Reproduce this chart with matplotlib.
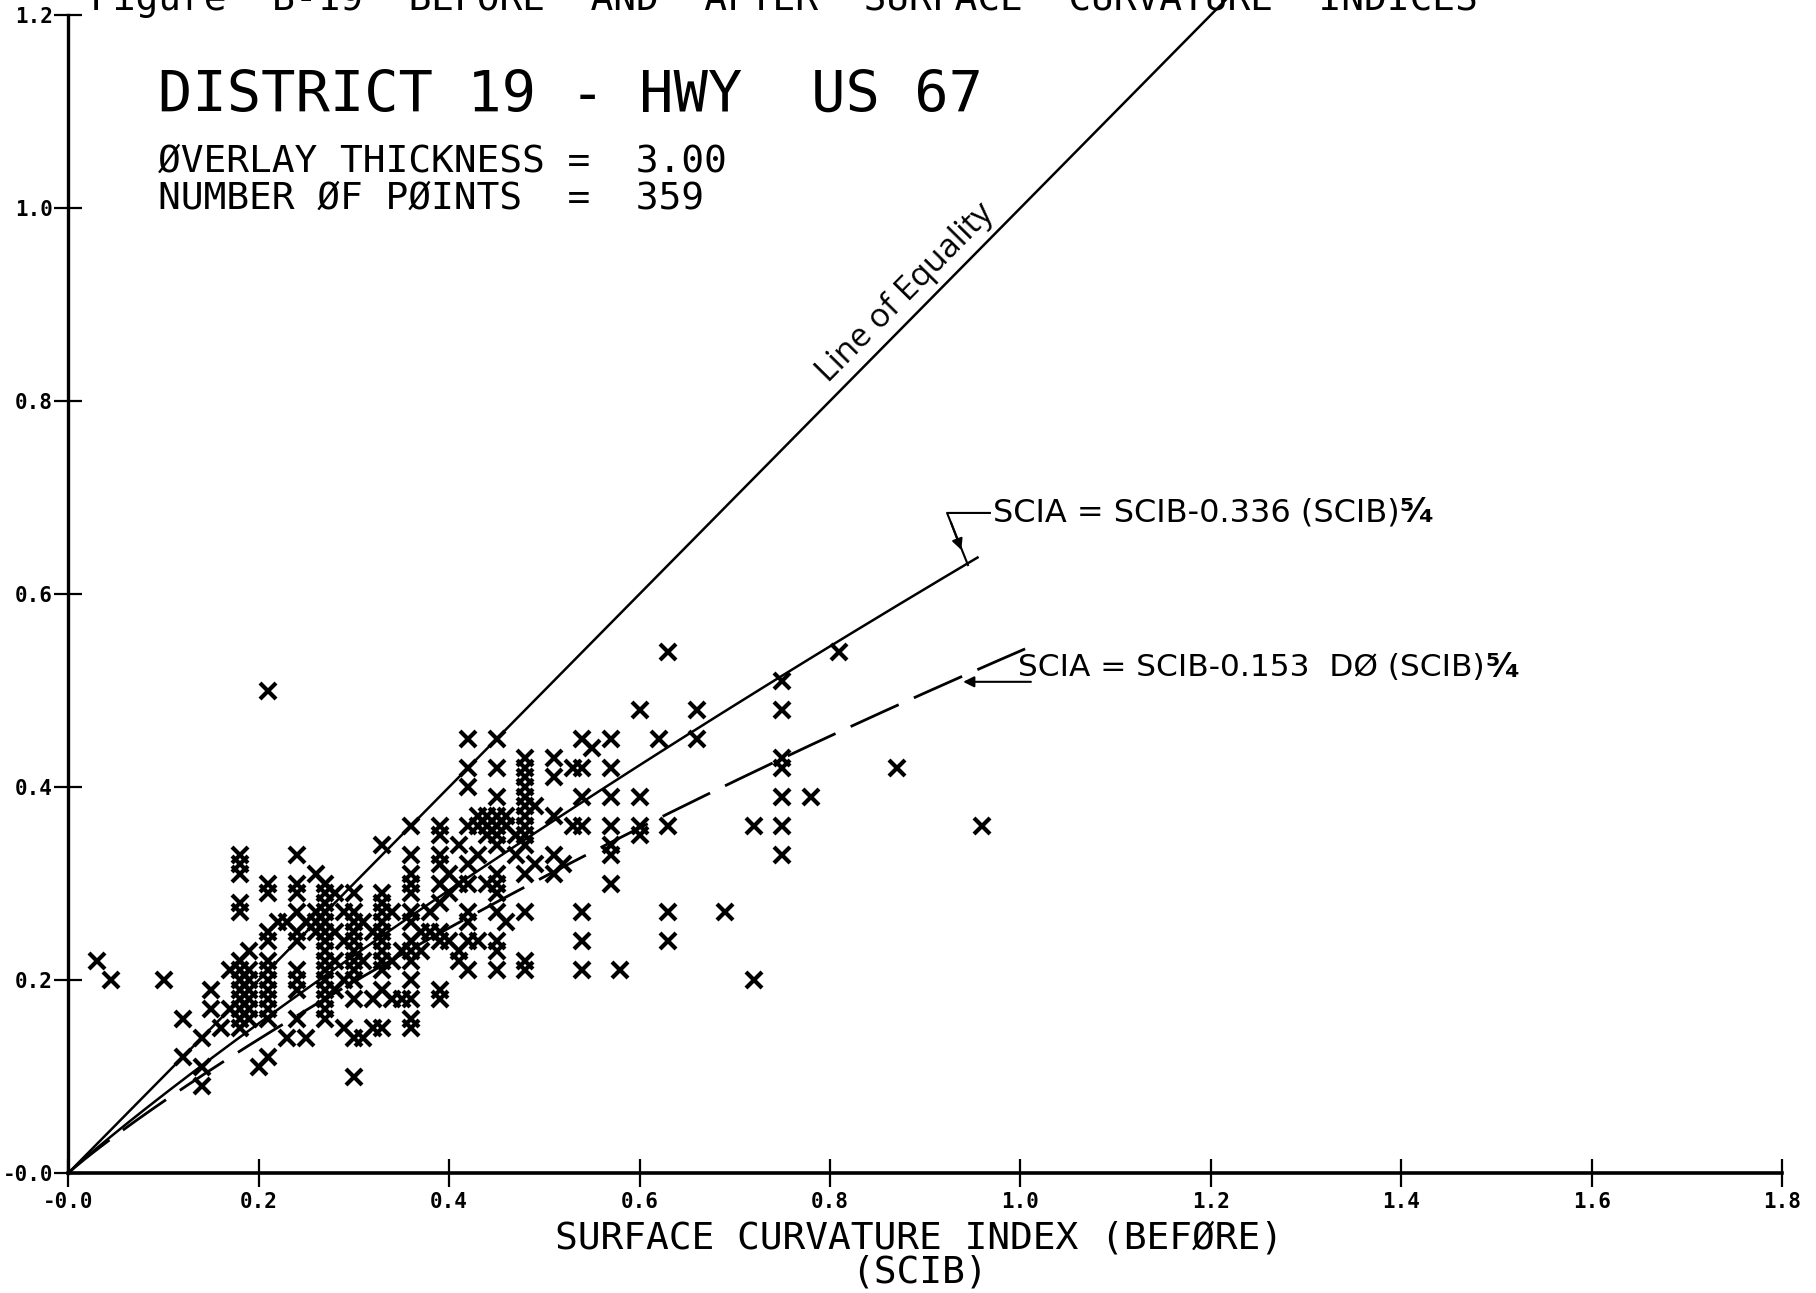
import numpy as np
import matplotlib
matplotlib.use("Agg")
import matplotlib.pyplot as plt

plt.rcParams["lines.scale_dashes"] = False

# Surface curvature index before overlay (columns) and the after-overlay values in each column
column_scib = [0.03, 0.045, 0.10, 0.12, 0.14, 0.15, 0.16, 0.17, 0.18, 0.19, 0.20, 0.21,
               0.22, 0.23, 0.24, 0.25, 0.26, 0.27, 0.28, 0.29, 0.30, 0.31, 0.32, 0.33,
               0.34, 0.35, 0.36, 0.37, 0.38, 0.39, 0.40, 0.41, 0.42, 0.43, 0.44, 0.45,
               0.46, 0.47, 0.48, 0.49, 0.51, 0.52, 0.53, 0.54, 0.55, 0.57, 0.58, 0.60,
               0.62, 0.63, 0.66, 0.69, 0.72, 0.75, 0.78, 0.81, 0.87, 0.96]
column_scia = [
    [0.22], [0.20], [0.20], [0.16, 0.12], [0.14, 0.11, 0.09], [0.19, 0.17], [0.15],
    [0.21, 0.17],
    [0.33, 0.32, 0.31, 0.28, 0.27, 0.22, 0.21, 0.20, 0.19, 0.18, 0.17, 0.16, 0.15],
    [0.23, 0.21, 0.20, 0.19, 0.18, 0.17, 0.16],
    [0.11],
    [0.50, 0.30, 0.29, 0.25, 0.24, 0.22, 0.21, 0.20, 0.19, 0.18, 0.17, 0.16, 0.12],
    [0.26], [0.26, 0.14],
    [0.33, 0.30, 0.29, 0.27, 0.25, 0.24, 0.21, 0.20, 0.19, 0.16],
    [0.26, 0.14],
    [0.31, 0.27, 0.26, 0.25],
    [0.30, 0.29, 0.28, 0.27, 0.26, 0.25, 0.24, 0.23, 0.22, 0.21, 0.20, 0.19, 0.18, 0.17, 0.16],
    [0.29, 0.25, 0.22, 0.19],
    [0.27, 0.24, 0.20, 0.15],
    [0.29, 0.27, 0.26, 0.25, 0.24, 0.23, 0.22, 0.21, 0.20, 0.18, 0.14, 0.10],
    [0.26, 0.22, 0.14],
    [0.25, 0.18, 0.15],
    [0.34, 0.29, 0.28, 0.27, 0.26, 0.25, 0.24, 0.23, 0.22, 0.21, 0.19, 0.15],
    [0.27, 0.22, 0.18],
    [0.23, 0.18],
    [0.36, 0.33, 0.31, 0.30, 0.29, 0.27, 0.26, 0.24, 0.23, 0.22, 0.20, 0.18, 0.16, 0.15],
    [0.25, 0.23],
    [0.27, 0.25],
    [0.36, 0.35, 0.33, 0.32, 0.30, 0.28, 0.25, 0.24, 0.19, 0.18],
    [0.31, 0.29, 0.24],
    [0.34, 0.30, 0.23, 0.22],
    [0.45, 0.42, 0.40, 0.36, 0.32, 0.30, 0.27, 0.26, 0.24, 0.21],
    [0.37, 0.36, 0.33, 0.24],
    [0.37, 0.36, 0.35, 0.30],
    [0.45, 0.42, 0.39, 0.37, 0.36, 0.35, 0.34, 0.31, 0.30, 0.29, 0.27, 0.24, 0.23, 0.21],
    [0.37, 0.36, 0.26],
    [0.35, 0.33],
    [0.43, 0.42, 0.41, 0.40, 0.39, 0.38, 0.37, 0.36, 0.35, 0.34, 0.31, 0.27, 0.22, 0.21],
    [0.38, 0.32],
    [0.43, 0.41, 0.37, 0.33, 0.31],
    [0.32],
    [0.42, 0.36],
    [0.45, 0.42, 0.39, 0.36, 0.27, 0.24, 0.21],
    [0.44],
    [0.45, 0.42, 0.39, 0.36, 0.34, 0.33, 0.30],
    [0.21],
    [0.48, 0.39, 0.36, 0.35],
    [0.45],
    [0.54, 0.36, 0.27, 0.24],
    [0.48, 0.45],
    [0.27],
    [0.36, 0.20],
    [0.51, 0.48, 0.43, 0.42, 0.39, 0.36, 0.33],
    [0.39],
    [0.54],
    [0.42],
    [0.36],
]

# Fitted relations
coef_fit = 0.336          # SCIA = SCIB - 0.336 SCIB^(5/4)
coef_d0 = 0.153           # SCIA = SCIB - 0.153 D0 SCIB^(5/4)
d0_mean = 3.0
exponent = 5.0 / 4.0
fit_end = 0.955
d0_end = 1.005

x_ticks = [0.0, 0.2, 0.4, 0.6, 0.8, 1.0, 1.2, 1.4, 1.6, 1.8]
y_ticks = [0.0, 0.2, 0.4, 0.6, 0.8, 1.0, 1.2]

scib = np.concatenate([[x] * len(ys) for x, ys in zip(column_scib, column_scia)])
scia = np.concatenate(column_scia)

W, H = 1816, 1293
fig = plt.figure(figsize=(W / 100, H / 100), dpi=100)
ax = fig.add_axes([68.3 / W, 1 - 1173 / H, (1782 - 68.3) / W, (1173 - 15) / H])
ax.set_xlim(0, 1.8)
ax.set_ylim(0, 1.2)

for side in ("top", "right"):
    ax.spines[side].set_visible(False)
ax.spines["left"].set_linewidth(2.4)
ax.spines["bottom"].set_linewidth(2.6)

ax.set_xticks(x_ticks)
ax.set_yticks(y_ticks)
fmt = lambda v: "-0.0" if abs(v) < 1e-9 else f"{v:.1f}"
ax.set_xticklabels([fmt(v) for v in x_ticks], fontsize=15, fontweight="bold",
                   family="DejaVu Sans Mono")
ax.set_yticklabels([fmt(v) for v in y_ticks], fontsize=15, fontweight="bold",
                   family="DejaVu Sans Mono")
ax.tick_params(axis="both", direction="inout", length=20, width=1.6, colors="black")
ax.tick_params(axis="x", pad=4)
ax.tick_params(axis="y", pad=1)

# Observations
ax.plot(scib, scia, linestyle="none", marker="x", markersize=11,
        markeredgewidth=3.0, color="black", clip_on=False, zorder=3)

# Line of equality
eq = np.array([0.0, 1.22])
ax.plot(eq, eq, color="black", lw=1.8, clip_on=False)
ax.text(0.879, 0.912, "Line of Equality", rotation=45, transform_rotates_text=True,
        rotation_mode="anchor", ha="center", va="center", fontsize=24, family="Open Sans")

# Fitted curve
xf = np.linspace(0, fit_end, 300)
ax.plot(xf, xf - coef_fit * xf ** exponent, color="black", lw=1.8)

# Deflection-based curve
xd = np.linspace(0, d0_end, 300)
ax.plot(xd, xd - coef_d0 * d0_mean * xd ** exponent, color="black", lw=2.0,
        dashes=(38, 12))

# Labels for the curves
t1 = ax.text(0.971, 0.684, "SCIA = SCIB-0.336 (SCIB)", ha="left", va="center",
             fontsize=23, family="DejaVu Sans")
ax.annotate("\u2075\u2044\u2084", xy=(1, 0.5), xycoords=t1, xytext=(0, 0),
            textcoords="offset points", ha="left", va="center", fontsize=24,
            fontweight="bold", family="DejaVu Sans")
ax.plot([0.968, 0.923, 0.945], [0.684, 0.684, 0.630], color="black", lw=1.5)
ax.annotate("", xy=(0.939, 0.643), xytext=(0.926, 0.677),
            arrowprops=dict(arrowstyle="-|>", lw=1.5, color="black", mutation_scale=16))

t2 = ax.text(0.998, 0.524, "SCIA = SCIB-0.153  D\u00d8 (SCIB)", ha="left", va="center",
             fontsize=22.5, family="DejaVu Sans")
ax.annotate("\u2075\u2044\u2084", xy=(1, 0.5), xycoords=t2, xytext=(0, 0),
            textcoords="offset points", ha="left", va="center", fontsize=24,
            fontweight="bold", family="DejaVu Sans")
ax.annotate("", xy=(0.937, 0.509), xytext=(1.014, 0.509),
            arrowprops=dict(arrowstyle="-|>", lw=1.5, color="black", mutation_scale=16))

# Header block
mono = "DejaVu Sans Mono"
fig.text(90 / W, 1 - 9.5 / H,
         "Figure  B-19  BEFORE  AND  AFTER  SURFACE  CURVATURE  INDICES",
         family=mono, fontsize=27.3, va="baseline", ha="left")
fig.text(157.5 / W, 1 - 112 / H, "DISTRICT 19 - HWY  US 67", family=mono,
         fontsize=41, va="baseline", ha="left")
fig.text(157.5 / W, 1 - 171.4 / H, "\u00d8VERLAY THICKNESS =  3.00", family=mono,
         fontsize=27.3, va="baseline", ha="left")
fig.text(157.5 / W, 1 - 208.4 / H, "NUMBER \u00d8F P\u00d8INTS  =  359", family=mono,
         fontsize=27.3, va="baseline", ha="left")

# Axis title
fig.text(919 / W, 2 / H, "SURFACE CURVATURE INDEX (BEF\u00d8RE)\n(SCIB)", family=mono,
         fontsize=27.3, va="bottom", ha="center", multialignment="center",
         linespacing=0.95)

fig.savefig("out.png", dpi=100)
